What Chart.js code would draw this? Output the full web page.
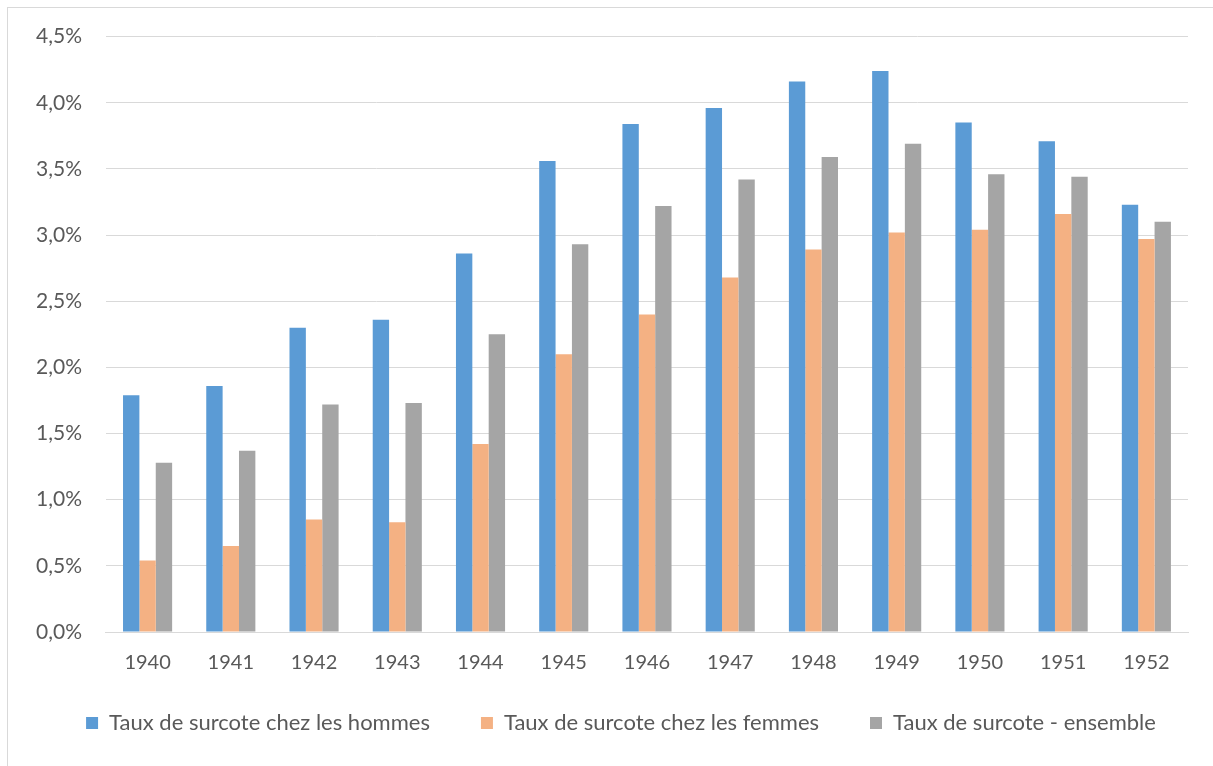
<!DOCTYPE html>
<html>
<head>
<meta charset="utf-8">
<script src="https://cdn.jsdelivr.net/npm/chart.js@4.4.1/dist/chart.umd.min.js"></script>
<style>
  html, body { margin: 0; padding: 0; background: #ffffff; }
  #wrap { position: relative; width: 1213px; height: 766px; }
</style>
</head>
<body>
<div id="wrap"><canvas id="chart" width="1213" height="766"></canvas></div>
<script>
// Années de génération
const years = ['1940', '1941', '1942', '1943', '1944', '1945', '1946', '1947', '1948', '1949', '1950', '1951', '1952'];

// Taux de surcote (en %)
const hommes   = [1.79, 1.86, 2.30, 2.36, 2.86, 3.56, 3.84, 3.96, 4.16, 4.24, 3.85, 3.71, 3.23];
const femmes   = [0.54, 0.65, 0.85, 0.83, 1.42, 2.10, 2.40, 2.68, 2.89, 3.02, 3.04, 3.16, 2.97];
const ensemble = [1.28, 1.37, 1.72, 1.73, 2.25, 2.93, 3.22, 3.42, 3.59, 3.69, 3.46, 3.44, 3.10];

const seriesNames = [
  'Taux de surcote chez les hommes',
  'Taux de surcote chez les femmes',
  'Taux de surcote - ensemble'
];

const textColor = '#595959';
const gridColor = '#d9d9d9';
const fontFamily = 'Lato, "Open Sans", "Liberation Sans", sans-serif';

// Cadre gris clair autour du graphique
const frame = {
  id: 'frame',
  beforeDraw(chart) {
    const ctx = chart.ctx;
    ctx.save();
    ctx.fillStyle = '#ffffff';
    ctx.fillRect(0, 0, chart.width, chart.height);
    ctx.strokeStyle = gridColor;
    ctx.lineWidth = 1;
    ctx.strokeRect(7.5, 7.5, chart.width + 10, chart.height + 10);
    ctx.restore();
  }
};

// Rapproche la légende des années et la recentre légèrement à droite
const legendPlacement = {
  id: 'legendPlacement',
  afterLayout(chart) {
    const lg = chart.legend;
    if (!lg) return;
    lg.top -= 33; lg.bottom -= 33;
    lg.left += 21; lg.right += 21;
  }
};

new Chart(document.getElementById('chart'), {
  type: 'bar',
  data: {
    labels: years,
    datasets: [
      { label: seriesNames[0], data: hommes,   backgroundColor: '#5B9BD5' },
      { label: seriesNames[1], data: femmes,   backgroundColor: '#F4B183' },
      { label: seriesNames[2], data: ensemble, backgroundColor: '#A5A5A5' }
    ]
  },
  options: {
    responsive: false,
    animation: false,
    layout: { padding: { left: 12, right: 25, top: 33, bottom: -11 } },
    datasets: {
      bar: { categoryPercentage: 0.59, barPercentage: 1.0, borderWidth: 0 }
    },
    scales: {
      x: {
        grid: { display: false, drawTicks: false },
        border: { display: true, color: gridColor, width: 1 },
        ticks: { color: textColor, font: { family: fontFamily, size: 20 }, padding: 19 }
      },
      y: {
        min: 0,
        max: 4.5,
        grid: { color: gridColor, lineWidth: 1, drawTicks: false },
        border: { display: false },
        ticks: {
          stepSize: 0.5,
          color: textColor,
          font: { family: fontFamily, size: 21 },
          padding: 24,
          callback: v => v.toFixed(1).replace('.', ',') + '%'
        }
      }
    },
    plugins: {
      legend: {
        position: 'bottom',
        labels: {
          color: textColor,
          font: { family: fontFamily, size: 22 },
          boxWidth: 12,
          boxHeight: 12,
          padding: 51
        }
      },
      tooltip: { enabled: false }
    }
  },
  plugins: [frame, legendPlacement]
});
</script>
</body>
</html>
